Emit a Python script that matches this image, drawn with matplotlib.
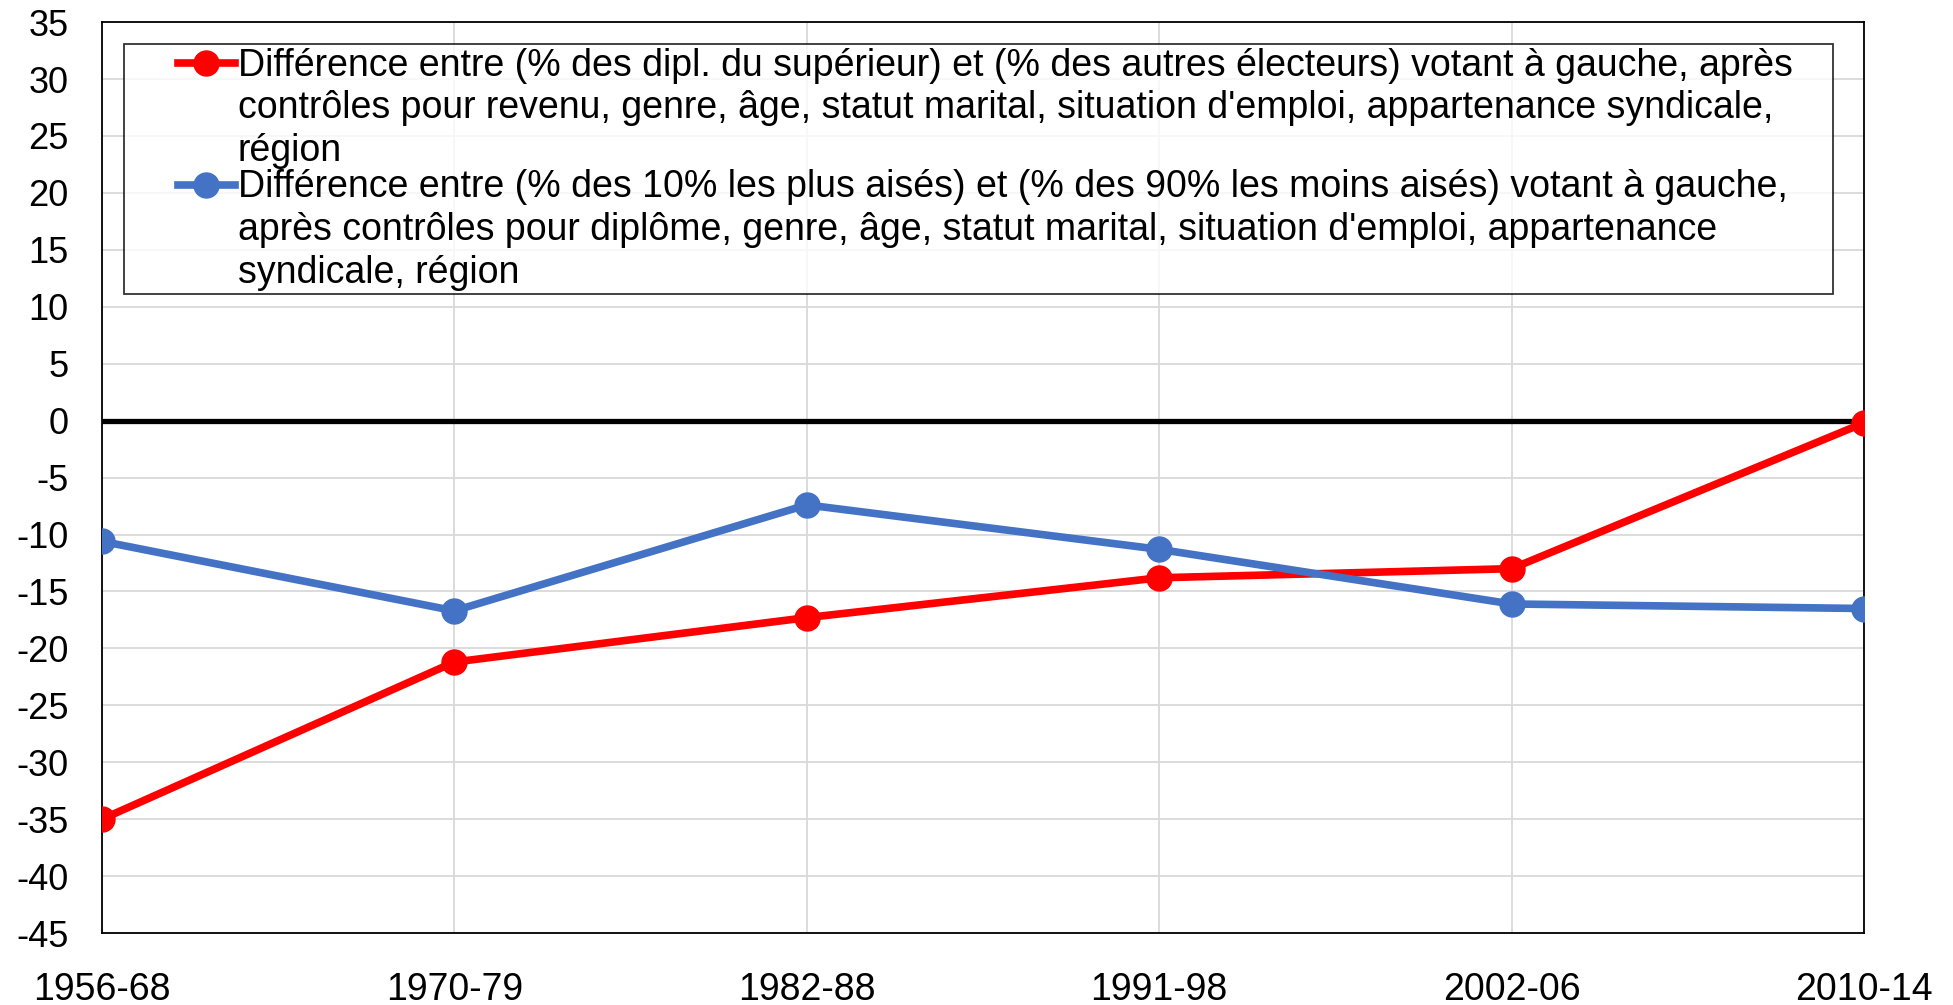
import matplotlib
matplotlib.use("Agg")
import matplotlib.pyplot as plt
from matplotlib.lines import Line2D
from matplotlib.legend_handler import HandlerLine2D

# periods and series
periods = ["1956-68", "1970-79", "1982-88", "1991-98", "2002-06", "2010-14"]
diplome = [-35.0, -21.2, -17.3, -13.8, -13.0, -0.2]
revenu = [-10.6, -16.7, -7.4, -11.3, -16.1, -16.5]

label_diplome = ("Différence entre (% des dipl. du supérieur) et (% des autres électeurs) votant à gauche, après\n"
                 "contrôles pour revenu, genre, âge, statut marital, situation d'emploi, appartenance syndicale,\n"
                 "région")
label_revenu = ("Différence entre (% des 10% les plus aisés) et (% des 90% les moins aisés) votant à gauche,\n"
                "après contrôles pour diplôme, genre, âge, statut marital, situation d'emploi, appartenance\n"
                "syndicale, région")

plt.rcParams['font.family'] = ['Liberation Sans', 'DejaVu Sans']
plt.rcParams['font.size'] = 27
plt.rcParams['axes.unicode_minus'] = False

fig = plt.figure(figsize=(19.53, 10.05), dpi=100)
ax = fig.add_axes([0.0522, 0.0716, 0.9022, 0.9064])

x = list(range(len(periods)))

# zero line
ax.axhline(0, color="black", lw=3.8, zorder=2)

ax.plot(x, diplome, color="#ff0000", lw=5.5, marker="o", markersize=18, label=label_diplome, zorder=3)
ax.plot(x, revenu, color="#4472c4", lw=5.5, marker="o", markersize=18, label=label_revenu, zorder=4)

ax.set_xlim(0, len(periods) - 1)
ax.set_ylim(-45, 35)
ax.set_yticks(range(-45, 36, 5))
ax.set_xticks(x)
ax.set_xticklabels(periods)

ax.grid(True, color="#d9d9d9", lw=1.3, zorder=0)
ax.set_axisbelow(True)
ax.tick_params(axis="both", length=0)
ax.tick_params(axis="x", pad=28, labelsize=27)
ax.tick_params(axis="y", pad=24, labelsize=26)
for s in ax.spines.values():
    s.set_color("black")
    s.set_linewidth(1.3)

# legend: handle sits in the right part of the handle box, aligned to first text line
leg = ax.legend(loc="upper left", bbox_to_anchor=(0.0127, 0.976, 0.9696, 0.0), mode="expand",
                fontsize=27, frameon=True, fancybox=False, edgecolor="black",
                handlelength=2.85, handleheight=1.1, handletextpad=0.08, labelspacing=0.0,
                borderpad=0.1, borderaxespad=0,
                handler_map={Line2D: HandlerLine2D(xpad=1.33)})
leg.get_frame().set_linewidth(1.3)
for t in leg.get_texts():
    t.set_linespacing(1.24)
for col in leg._legend_handle_box.get_children():
    for row in col.get_children():
        row.align = "top"

fig.savefig("out.png", dpi=100)
